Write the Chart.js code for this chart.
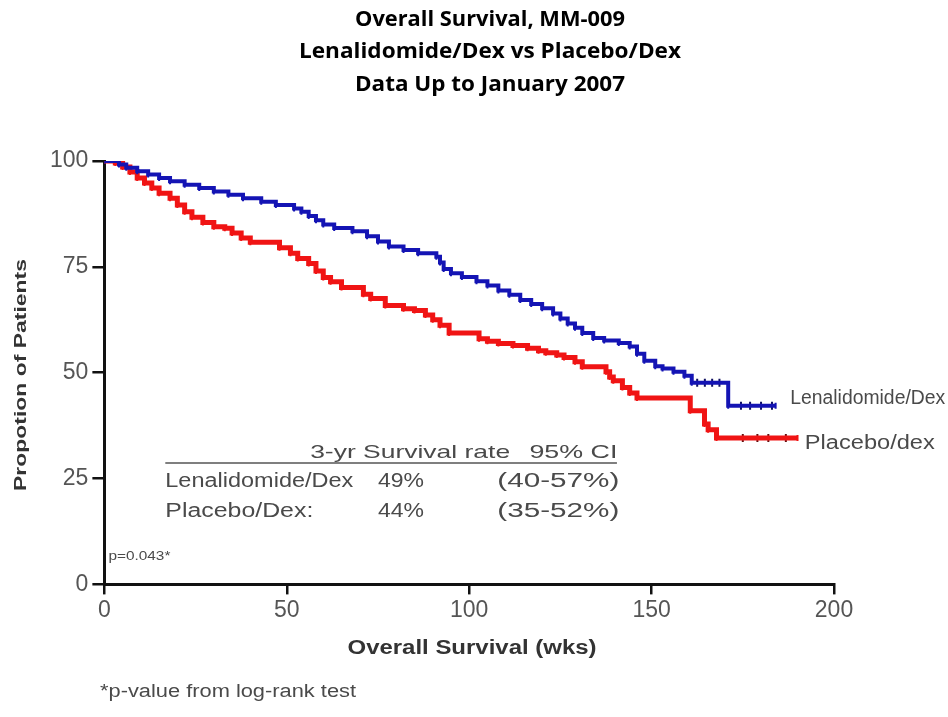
<!doctype html>
<html lang="en">
  <head>
    <meta charset="UTF-8" />
    <title>Overall Survival, MM-009</title>
    <style>
      html,
      body {
        margin: 0;
        padding: 0;
        background: #fff;
      }
      .grafico {
        position: relative;
        width: 948px;
        height: 717px;
      }
    </style>
  </head>
  <body>
    <div class="grafico">
      <canvas id="myChart" width="948" height="717"></canvas>
    </div>

    <script src="https://cdn.jsdelivr.net/npm/chart.js"></script>
    <script>
      // Title lines
      var tituloLinhas = [
        "Overall Survival, MM-009",
        "Lenalidomide/Dex vs Placebo/Dex",
        "Data Up to January 2007"
      ];
      var tituloX = "Overall Survival (wks)";
      var tituloY = "Propotion of Patients";

      // Axis ticks
      var ticksX = [0, 50, 100, 150, 200];
      var ticksY = [0, 25, 50, 75, 100];

      // Lenalidomide/Dex (weeks, % alive)
      var lenSemanas = [0, 4, 6, 9, 12, 15, 18, 22, 26, 30, 34, 38, 43, 47, 52, 54, 56, 58, 60, 63, 68, 72, 75, 78, 82, 86, 91, 92, 93, 95, 98, 102, 105, 108, 111, 114, 117, 120, 123, 125, 127, 129, 131, 134, 137, 141, 144, 146, 148, 151, 153, 156, 159, 161, 171, 184];
      var lenSobrev = [100, 99.2, 98.4, 97.6, 96.8, 96, 95.2, 94.4, 93.6, 92.8, 92, 91.2, 90.4, 89.6, 88.8, 88, 87, 86, 85, 84.2, 83.4, 82.2, 81, 79.8, 79, 78.2, 77.4, 76, 74.5, 73.5, 72.6, 71.6, 70.6, 69.4, 68.4, 67.2, 66.2, 65.2, 64, 62.8, 61.6, 60.6, 59.4, 58.2, 57.6, 57, 56.2, 54.5, 52.8, 51.5, 51, 50.2, 49.3, 47.6, 42.2, 42.2];

      // Placebo/Dex
      var plaSemanas = [0, 3, 5, 7, 9, 11, 13, 15, 18, 20, 22, 24, 27, 30, 33, 35, 37.5, 40, 48, 51, 53, 56, 58, 60, 62, 65, 71, 73, 77, 82, 85, 88, 90, 92, 94.5, 102.7, 105, 108, 112, 116, 119, 121, 124, 126, 129, 131, 137.5, 138.5, 139.5, 142, 144, 146, 160.6, 164.5, 165.5, 167.8, 190];
      var plaSobrev = [100, 99.5, 98.6, 97.4, 96, 94.8, 93.6, 92.4, 91.2, 89.6, 88, 86.7, 85.5, 84.5, 84.1, 83, 81.8, 80.8, 79.5, 78.2, 77, 75.8, 74, 72.5, 71.5, 70.1, 68.5, 67.5, 65.9, 65.1, 64.7, 63.6, 62.5, 61.2, 59.4, 58, 57.4, 56.9, 56.4, 55.8, 55.2, 54.7, 54.2, 53.6, 52.6, 51.4, 50.2, 49, 48.1, 46.5, 45.2, 44, 41, 37.9, 36.5, 34.6, 34.6];

      // Censored marks on the tails
      var lenCensura = [162.5, 164.6, 166.6, 168.6, 174.5, 177, 180, 183];
      var lenCensuraY = [47.6, 47.6, 47.6, 47.6, 42.2, 42.2, 42.2, 42.2];
      var plaCensura = [175, 179, 182, 186.8];
      var plaCensuraY = [34.6, 34.6, 34.6, 34.6];

      // Text table inside the plot
      var tabelaCabecalho = ["3-yr Survival rate", "95% CI"];
      var tabelaGrupos = ["Lenalidomide/Dex", "Placebo/Dex:"];
      var tabelaTaxas = ["49%", "44%"];
      var tabelaIC = ["(40-57%)", "(35-52%)"];
      var valorP = "p=0.043*";
      var rodape = "*p-value from log-rank test";
      var rotulosCurvas = ["Lenalidomide/Dex", "Placebo/dex"];

      function pontos(xs, ys) {
        return xs.map(function (x, i) {
          return { x: x, y: ys[i] };
        });
      }

      var azul = "#1414b4";
      var vermelho = "#f01414";
      var cinza = "#4a4a4a";

      // escreve o texto esticado na horizontal ate a largura pedida
      function escreve(c, texto, x, y, largura, alinhar, angulo) {
        var w = c.measureText(texto).width;
        c.save();
        c.translate(x, y);
        if (angulo) c.rotate(angulo);
        c.scale(largura / w, 1);
        c.textAlign = alinhar || "left";
        c.fillText(texto, 0, 0);
        c.restore();
      }

      // textos extras desenhados por cima
      var textosPlugin = {
        id: "textos",
        afterDraw: function (chart) {
          var c = chart.ctx;
          var sx = chart.scales.x;
          var sy = chart.scales.y;
          var px = function (v) { return sx.getPixelForValue(v); };
          var py = function (v) { return sy.getPixelForValue(v); };
          c.save();
          c.textBaseline = "middle";

          // titulo
          c.fillStyle = "#000";
          c.font = "bold 21px 'Open Sans'";
          var largurasTitulo = [270, 382, 270];
          tituloLinhas.forEach(function (t, i) {
            escreve(c, t, 490, 20 + i * 32.5, largurasTitulo[i], "center");
          });

          // titulos dos eixos
          c.fillStyle = "#333";
          c.font = "bold 20px 'Liberation Sans'";
          escreve(c, tituloX, 472, 648, 249, "center");
          c.font = "bold 17px 'Liberation Sans'";
          escreve(c, tituloY, 21, 375, 232, "center", -Math.PI / 2);

          // rotulos das curvas
          c.fillStyle = cinza;
          c.font = "20px 'Liberation Sans'";
          escreve(c, rotulosCurvas[0], px(188), py(43.8), 155);
          escreve(c, rotulosCurvas[1], px(192), py(33.2), 130);

          // tabela
          c.font = "19px 'Liberation Sans'";
          escreve(c, tabelaCabecalho[0], px(56.4), py(31), 200);
          escreve(c, tabelaCabecalho[1], px(116.5), py(31), 88);
          c.strokeStyle = "#555";
          c.lineWidth = 1.5;
          c.beginPath();
          c.moveTo(px(16.7), py(28.7));
          c.lineTo(px(140.5), py(28.7));
          c.stroke();

          c.font = "20px 'Liberation Sans'";
          var linhasY = [24.4, 17.3];
          var largGrupo = [188, 148];
          tabelaGrupos.forEach(function (g, i) {
            var y = py(linhasY[i]);
            escreve(c, g, px(16.7), y, largGrupo[i]);
            escreve(c, tabelaTaxas[i], px(75), y, 46);
            escreve(c, tabelaIC[i], px(107.7), y, 122);
          });

          // p-valor
          c.font = "13px 'Liberation Sans'";
          escreve(c, valorP, px(1.1), py(6.6), 62);

          // rodape
          c.font = "18px 'Liberation Sans'";
          escreve(c, rodape, 100, 692, 256);
          c.restore();
        }
      };

      var ctx = document.getElementById("myChart").getContext("2d");
      var myChart = new Chart(ctx, {
        type: "line",
        data: {
          datasets: [
            {
              label: "Lenalidomide/Dex",
              data: pontos(lenSemanas, lenSobrev),
              stepped: true,
              borderColor: azul,
              borderWidth: 4,
              pointStyle: "line",
              rotation: 90,
              pointRadius: 3,
              pointBorderWidth: 2,
              pointBorderColor: azul,
              pointHoverRadius: 0,
              fill: false
            },
            {
              label: "Placebo/Dex",
              data: pontos(plaSemanas, plaSobrev),
              stepped: true,
              borderColor: vermelho,
              borderWidth: 5,
              pointStyle: "line",
              rotation: 90,
              pointRadius: 3,
              pointBorderWidth: 2,
              pointBorderColor: vermelho,
              pointHoverRadius: 0,
              fill: false
            },
            {
              type: "scatter",
              label: "len censored",
              data: pontos(lenCensura, lenCensuraY),
              pointStyle: "line",
              rotation: 90,
              pointRadius: 4,
              pointBorderWidth: 2,
              borderColor: "#101060",
              showLine: false
            },
            {
              type: "scatter",
              label: "pla censored",
              data: pontos(plaCensura, plaCensuraY),
              pointStyle: "line",
              rotation: 90,
              pointRadius: 4,
              pointBorderWidth: 2,
              borderColor: "#601010",
              showLine: false
            }
          ]
        },
        options: {
          responsive: false,
          animation: false,
          devicePixelRatio: 1,
          layout: {
            padding: { top: 161, right: 114, bottom: 91, left: 46 }
          },
          plugins: {
            legend: { display: false },
            tooltip: { enabled: false },
            title: { display: false }
          },
          scales: {
            x: {
              type: "linear",
              min: 0,
              max: 200,
              afterBuildTicks: function (axis) {
                axis.ticks = ticksX.map(function (v) {
                  return { value: v };
                });
              },
              border: { display: true, color: "#111", width: 3 },
              grid: {
                drawOnChartArea: false,
                drawTicks: true,
                tickLength: 10,
                color: "#111",
                lineWidth: 2.5
              },
              ticks: {
                color: "#555",
                font: { family: "'Liberation Sans'", size: 23 },
                padding: 2,
                maxRotation: 0
              }
            },
            y: {
              type: "linear",
              min: 0,
              max: 100,
              afterBuildTicks: function (axis) {
                axis.ticks = ticksY.map(function (v) {
                  return { value: v };
                });
              },
              border: { display: true, color: "#111", width: 3 },
              grid: {
                drawOnChartArea: false,
                drawTicks: true,
                tickLength: 12,
                color: "#111",
                lineWidth: 2.5
              },
              ticks: {
                color: "#555",
                font: { family: "'Liberation Sans'", size: 23 },
                padding: 4
              }
            }
          }
        },
        plugins: [textosPlugin]
      });
    </script>
  </body>
</html>
